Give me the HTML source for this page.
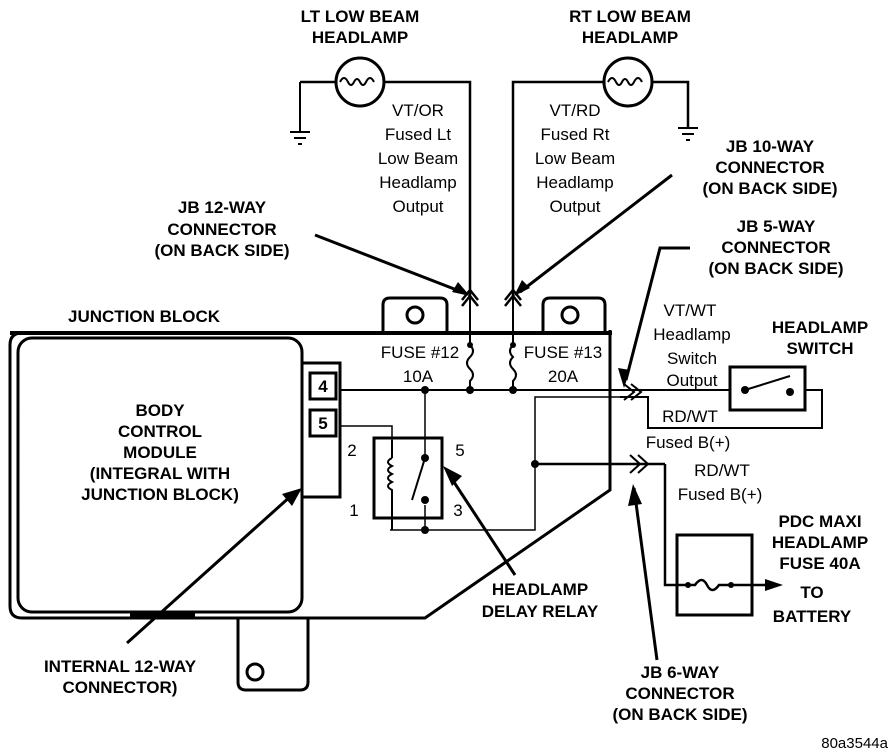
<!DOCTYPE html>
<html><head><style>
html,body{margin:0;padding:0;background:#fff}
svg{display:block}
text{font-family:"Liberation Sans",Arial,sans-serif;fill:#000}
.b{font-weight:bold;font-size:17px}
.n{font-size:17px}
</style></head><body>
<svg width="896" height="754" viewBox="0 0 896 754" xmlns="http://www.w3.org/2000/svg">
<g fill="none" stroke="#000" stroke-width="2">
<circle cx="360" cy="82" r="24" stroke-width="3"/>
<path d="M340 82 q4 -8 8 0 q3 6 6 0 q3 -6 6 0 q3 6 6 0 q4 -8 8 0"/>
<path d="M300 82 H336 M384 82 H470 V298" stroke-width="2.5"/>
<path d="M300 82 V132 M290 132 H310 M294 138 H306 M298 144 H302" stroke-width="2"/>
<circle cx="628" cy="82" r="24" stroke-width="3"/>
<path d="M608 82 q4 -8 8 0 q3 6 6 0 q3 -6 6 0 q3 6 6 0 q4 -8 8 0"/>
<path d="M513 298 V82 H604 M652 82 H688 V128" stroke-width="2.5"/>
<path d="M678 128 H698 M682 134 H694 M686 140 H690"/>
<path d="M462 300 L470 290 L478 300 M462 306 L470 296 L478 306" stroke-width="2.5"/>
<path d="M505 300 L513 290 L521 300 M505 306 L513 296 L521 306" stroke-width="2.5"/>
<path d="M10 333 H612" stroke-width="4"/>
<path d="M383 333 V305 Q383 298 390 298 H440 Q447 298 447 305 V333" stroke-width="3"/>
<circle cx="415" cy="315" r="8" stroke-width="3"/>
<path d="M543 333 V305 Q543 298 550 298 H598 Q605 298 605 305 V333" stroke-width="3"/>
<circle cx="570" cy="315" r="8" stroke-width="3"/>
<path d="M22 333 Q10 333 10 345 V606 Q10 618 22 618 H425 L610 490 V355" stroke-width="3"/>
<path d="M238 618 V682 Q238 690 246 690 H300 Q308 690 308 682 V618" stroke-width="3"/>
<circle cx="255" cy="672" r="8" stroke-width="3"/>
<rect x="18" y="338" width="284" height="274" rx="14" stroke-width="3"/>
<path d="M130 614 H195" stroke-width="5"/>
<path d="M302 363 H340 V497 H302" stroke-width="3"/>
<rect x="310" y="373" width="26" height="26" stroke-width="3"/>
<rect x="310" y="410" width="26" height="26" stroke-width="3"/>
<path d="M340 390 H730 M805 390 H822 V428 H648 V397 H620" stroke-width="2"/>
<path d="M470 298 V345 M513 298 V345"/>
<path d="M470 345 q6 6 0 12 q-6 6 0 12 q6 6 0 12 V390" stroke-width="2"/>
<path d="M513 345 q-6 6 0 12 q-6 6 0 12 q6 6 0 12 V390" stroke-width="2"/>
<path d="M340 426 H392 V440" stroke-width="1.5"/>
<rect x="374" y="438" width="68" height="80" stroke-width="3"/>
<path d="M425 390 V458 M425 505 V530 M390 530 H535 V397 H620" stroke-width="1.5"/>
<path d="M392 440 V458 M392 500 V530" stroke-width="2"/>
<path d="M392 458 q-8 4 0 8 q-8 4 0 8 q-8 4 0 8 q-8 4 0 8 V500"/>
<path d="M425 458 L412 500" stroke-width="2"/>
<path d="M535 464 H640 M665 464 V585 H685" stroke-width="2.5"/>
<path d="M610 330 V480" stroke-width="3"/>
<rect x="730" y="367" width="75" height="43" stroke-width="3"/>
<path d="M745 390 L790 376"/>
<path d="M624 384 L634 392 L624 400 M631 384 L641 392 L631 400" stroke-width="2"/>
<path d="M630 455 L640 464 L630 473 M638 455 L648 464 L638 473" stroke-width="2"/>
<path d="M640 464 H665" stroke-width="2.5"/>
<rect x="677" y="535" width="75" height="80" stroke-width="3"/>
<path d="M685 585 H695 q7 -10 12 0 q5 10 12 0 H765" stroke-width="2.5"/>
<path d="M315 235 L462 292 M672 175 L520 292 M690 248 H660 L626 380 M515 575 L448 473 M127 643 L292 495 M657 660 L634 488" stroke-width="3"/>
</g>
<g fill="#000">
<circle cx="425" cy="390" r="4"/><circle cx="470" cy="390" r="4"/><circle cx="513" cy="390" r="4"/>
<circle cx="470" cy="345" r="3"/><circle cx="513" cy="345" r="3"/>
<circle cx="535" cy="464" r="4"/><circle cx="425" cy="458" r="4"/><circle cx="425" cy="500" r="4"/><circle cx="425" cy="530" r="4"/>
<circle cx="745" cy="390" r="4"/><circle cx="790" cy="392" r="4"/>
<circle cx="688" cy="585" r="3"/><circle cx="731" cy="585" r="3"/>
<polygon points="470,296 452,292 458,282"/>
<polygon points="514,296 522,280 530,288"/>
<polygon points="624,388 618,368 630,370"/>
<polygon points="443,466 462,476 452,486"/>
<polygon points="302,488 292,506 282,494"/>
<polygon points="633,484 628,506 642,504"/>
<polygon points="783,585 765,579 765,591"/>
</g>
<g class="b" text-anchor="middle">
<text x="360" y="22">LT LOW BEAM</text><text x="360" y="43">HEADLAMP</text>
<text x="630" y="22">RT LOW BEAM</text><text x="630" y="43">HEADLAMP</text>
<text x="770" y="152">JB 10-WAY</text><text x="770" y="173">CONNECTOR</text><text x="770" y="194">(ON BACK SIDE)</text>
<text x="222" y="213">JB 12-WAY</text><text x="222" y="235">CONNECTOR</text><text x="222" y="256">(ON BACK SIDE)</text>
<text x="776" y="232">JB 5-WAY</text><text x="776" y="253">CONNECTOR</text><text x="776" y="274">(ON BACK SIDE)</text>
<text x="820" y="333">HEADLAMP</text><text x="820" y="354">SWITCH</text>
<text x="160" y="416">BODY</text><text x="160" y="437">CONTROL</text><text x="160" y="458">MODULE</text><text x="160" y="479">(INTEGRAL WITH</text><text x="160" y="500">JUNCTION BLOCK)</text>
<text x="820" y="527">PDC MAXI</text><text x="820" y="548">HEADLAMP</text><text x="820" y="569">FUSE 40A</text>
<text x="812" y="598">TO</text><text x="812" y="622">BATTERY</text>
<text x="540" y="595">HEADLAMP</text><text x="540" y="617">DELAY RELAY</text>
<text x="120" y="672">INTERNAL 12-WAY</text><text x="120" y="693">CONNECTOR)</text>
<text x="680" y="678">JB 6-WAY</text><text x="680" y="699">CONNECTOR</text><text x="680" y="720">(ON BACK SIDE)</text>
</g>
<text class="b" x="68" y="322">JUNCTION BLOCK</text>
<g class="n" text-anchor="middle">
<text x="418" y="116">VT/OR</text><text x="418" y="140">Fused Lt</text><text x="418" y="164">Low Beam</text><text x="418" y="188">Headlamp</text><text x="418" y="212">Output</text>
<text x="575" y="116">VT/RD</text><text x="575" y="140">Fused Rt</text><text x="575" y="164">Low Beam</text><text x="575" y="188">Headlamp</text><text x="575" y="212">Output</text>
<text x="420" y="358">FUSE #12</text><text x="418" y="382">10A</text>
<text x="563" y="358">FUSE #13</text><text x="563" y="382">20A</text>
<text x="690" y="316">VT/WT</text><text x="692" y="340">Headlamp</text><text x="692" y="364">Switch</text><text x="692" y="386">Output</text>
<text x="690" y="422">RD/WT</text><text x="688" y="448">Fused B(+)</text>
<text x="722" y="476">RD/WT</text><text x="720" y="500">Fused B(+)</text>
<text x="352" y="456">2</text><text x="460" y="456">5</text><text x="354" y="516">1</text><text x="458" y="516">3</text>
</g>
<text class="n" x="323" y="392" text-anchor="middle" font-weight="bold">4</text>
<text class="n" x="323" y="429" text-anchor="middle" font-weight="bold">5</text>
<text class="n" x="888" y="748" text-anchor="end" style="font-size:15px">80a3544a</text>
</svg>
</body></html>
